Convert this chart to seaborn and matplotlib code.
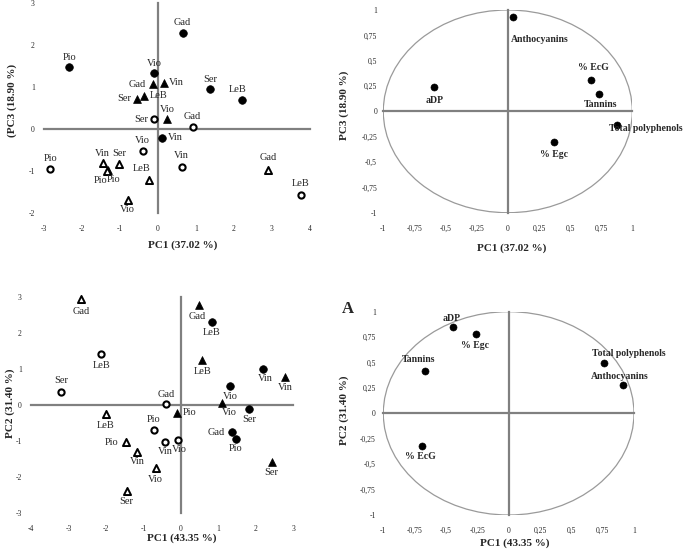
import numpy as np
import pandas as pd
import matplotlib
matplotlib.use("Agg")
import matplotlib.pyplot as plt
from matplotlib.patches import Circle
import seaborn as sns

# ---- scores, PC1 vs PC3 (top left) ----
pc13_cultivar = ['Gad', 'Pio', 'Vio', 'Ser', 'LeB', 'Vin',
                 'Ser', 'Gad', 'Vio', 'Vin', 'Pio', 'LeB',
                 'Gad', 'Vin', 'LeB', 'Ser', 'Vio', 'Pio',
                 'Vin', 'Ser', 'Pio', 'LeB', 'Vio', 'Gad']
pc13_group = ['fc'] * 6 + ['oc'] * 6 + ['ft'] * 6 + ['ot'] * 6
pc13_x = [0.65, -2.33, -0.10, 1.37, 2.20, 0.10,
          -0.11, 0.91, -0.40, 0.62, -2.83, 3.75,
          -0.14, 0.16, -0.38, -0.55, 0.24, -1.32,
          -1.46, -1.02, -1.34, -0.25, -0.80, 2.90]
pc13_y = [2.29, 1.47, 1.35, 0.95, 0.69, -0.20,
          0.24, 0.06, -0.52, -0.90, -0.94, -1.56,
          1.07, 1.10, 0.79, 0.73, 0.24, -0.97,
          -0.81, -0.83, -0.99, -1.21, -1.69, -0.97]
# label placement (dx, dy in pixels, alignment)
pc13_lab = [(0, 11, 'center'), (0, 10, 'center'), (0, 9, 'center'), (0, 10, 'center'), (-4, 11, 'center'), (6, 0, 'left'),
            (-6, 0, 'right'), (0, 10, 'center'), (0, 10, 'center'), (0, 11, 'center'), (0, 10, 'center'), (0, 11, 'center'),
            (-7, 0, 'right'), (5, 0, 'left'), (6, 0, 'left'), (-6, 0, 'right'), (0, 10, 'center'), (6, -10, 'center'),
            (0, 10, 'center'), (0, 10, 'center'), (-7, -10, 'center'), (-7, 11, 'center'), (0, -10, 'center'), (0, 12, 'center')]

# ---- scores, PC1 vs PC2 (bottom left) ----
pc12_cultivar = ['LeB', 'Vin', 'Vio', 'Ser', 'Gad', 'Pio',
                 'LeB', 'Ser', 'Gad', 'Pio', 'Vin', 'Vio',
                 'Gad', 'LeB', 'Vin', 'Vio', 'Pio', 'Ser',
                 'Gad', 'LeB', 'Pio', 'Vin', 'Vio', 'Ser']
pc12_group = ['fc'] * 6 + ['oc'] * 6 + ['ft'] * 6 + ['ot'] * 6
pc12_x = [0.82, 2.20, 1.31, 1.82, 1.37, 1.47,
          -2.12, -3.20, -0.40, -0.72, -0.43, -0.07,
          0.48, 0.57, 2.79, 1.11, -0.10, 2.42,
          -2.67, -2.01, -1.47, -1.16, -0.67, -1.45]
pc12_y = [2.30, 0.98, 0.52, -0.13, -0.76, -0.94,
          1.40, 0.36, 0.03, -0.70, -1.03, -0.98,
          2.76, 1.24, 0.77, 0.06, -0.22, -1.59,
          2.93, -0.27, -1.04, -1.31, -1.77, -2.41]
pc12_lab = [(0, -11, 'center'), (2, -9, 'center'), (0, -11, 'center'), (0, -10, 'center'), (-7, 0, 'right'), (0, -10, 'center'),
            (0, -11, 'center'), (0, 11, 'center'), (0, 9, 'center'), (0, 10, 'center'), (1, -10, 'center'), (1, -10, 'center'),
            (-2, -11, 'center'), (0, -11, 'center'), (0, -11, 'center'), (7, -10, 'center'), (6, 0, 'left'), (0, -11, 'center'),
            (0, -12, 'center'), (0, -11, 'center'), (-7, 0, 'right'), (0, -10, 'center'), (0, -11, 'center'), (0, -10, 'center')]

# ---- loadings ----
load13_var = ['Anthocyanins', 'aDP', '% EcG', 'Tannins', 'Total polyphenols', '% Egc']
load13_x = [0.04, -0.59, 0.67, 0.73, 0.88, 0.37]
load13_y = [0.93, 0.24, 0.31, 0.17, -0.13, -0.30]
load13_lab = [(-2, -22, 'left'), (0, -13, 'center'), (2, 12, 'center'), (2, -10, 'center'), (-8, -4, 'left'), (0, -13, 'center')]

load12_var = ['aDP', '% Egc', 'Tannins', 'Total polyphenols', 'Anthocyanins', '% EcG']
load12_x = [-0.44, -0.26, -0.67, 0.76, 0.91, -0.69]
load12_y = [0.85, 0.78, 0.42, 0.50, 0.28, -0.32]
load12_lab = [(-2, 8, 'center'), (-1, -11, 'center'), (-6, 11, 'center'), (-12, 9, 'left'), (-32, 8, 'left'), (-2, -11, 'center')]

loading_ticks = [-1, -0.75, -0.5, -0.25, 0, 0.25, 0.5, 0.75, 1]
loading_ticklabels = ['-1', '-0,75', '-0,5', '-0,25', '0', '0,25', '0,5', '0,75', '1']

sns.set_style('white')
plt.rcParams['font.family'] = ['Liberation Serif', 'DejaVu Serif']

marker_styles = {
    'fc': dict(marker='o', s=30, color='black', edgecolor='black', linewidth=0.5),
    'oc': dict(marker='o', s=20, color='white', edgecolor='black', linewidth=1.5),
    'ft': dict(marker='^', s=32, color='black', edgecolor='black', linewidth=0.5),
    'ot': dict(marker='^', s=26, color='white', edgecolor='black', linewidth=1.4),
}

W, H = 685, 558
fig = plt.figure(figsize=(W / 100, H / 100), dpi=100)


def add_ax(left, top, right, bottom):
    # pixel box -> figure fraction
    return fig.add_axes([left / W, 1 - bottom / H, (right - left) / W, (bottom - top) / H])


def cross_axes(ax, xticks, yticks, xlabels, ylabels, ypad):
    ax.set_xlim(xticks[0], xticks[-1])
    ax.set_ylim(yticks[0], yticks[-1])
    ax.set_facecolor('none')
    for side in ['top', 'right']:
        ax.spines[side].set_visible(False)
    for side in ['left', 'bottom']:
        ax.spines[side].set_position(('data', 0))
        ax.spines[side].set_color('#808080')
        ax.spines[side].set_linewidth(1.6)
        ax.spines[side].set_zorder(1)
    ax.set_xticks(xticks)
    ax.set_yticks(yticks)
    ax.tick_params(direction='inout', length=5, width=1, color='#808080',
                   labelbottom=False, labelleft=False)
    sx = ax.secondary_xaxis('bottom')
    sx.set_xticks(xticks, xlabels)
    sx.spines['bottom'].set_visible(False)
    sx.tick_params(length=0, pad=8.5, labelsize=5.5)
    sy = ax.secondary_yaxis('left')
    sy.set_yticks(yticks, ylabels)
    sy.spines['left'].set_visible(False)
    sy.tick_params(length=0, pad=ypad, labelsize=5.5)


def score_plot(ax, cultivar, group, x, y, lab):
    df = pd.DataFrame({'cultivar': cultivar, 'group': group, 'x': x, 'y': y})
    for g, st in marker_styles.items():
        sub = df[df['group'] == g]
        sns.scatterplot(data=sub, x='x', y='y', ax=ax, legend=False, zorder=3, clip_on=False, **st)
    for (c, xi, yi), (dx, dy, ha) in zip(zip(cultivar, x, y), lab):
        ax.annotate(c, (xi, yi), xytext=(dx, dy), textcoords='offset pixels',
                    ha=ha, va='center', fontsize=7.5, zorder=4)
    ax.set_xlabel('')
    ax.set_ylabel('')


def loading_plot(ax, var, x, y, lab):
    ax.add_patch(Circle((0, 0), 1, fill=False, edgecolor='#9a9a9a', linewidth=0.9, zorder=0))
    df = pd.DataFrame({'var': var, 'x': x, 'y': y})
    sns.scatterplot(data=df, x='x', y='y', ax=ax, legend=False, marker='o', s=26,
                    color='black', edgecolor='black', zorder=3, clip_on=False)
    for (v, xi, yi), (dx, dy, ha) in zip(zip(var, x, y), lab):
        ax.annotate(v, (xi, yi), xytext=(dx, dy), textcoords='offset pixels',
                    ha=ha, va='center', fontsize=7, fontweight='bold', zorder=4)
    ax.set_xlabel('')
    ax.set_ylabel('')


# top left
ax1 = add_ax(44, 3.3, 310, 213)
t1x = [-3, -2, -1, 0, 1, 2, 3, 4]
t1y = [-2, -1, 0, 1, 2, 3]
cross_axes(ax1, t1x, t1y, [str(v) for v in t1x], [str(v) for v in t1y], 6.5)
score_plot(ax1, pc13_cultivar, pc13_group, pc13_x, pc13_y, pc13_lab)

# top right
ax2 = add_ax(383.3, 10, 632.3, 212.7)
cross_axes(ax2, loading_ticks, loading_ticks, loading_ticklabels, loading_ticklabels, 4.5)
loading_plot(ax2, load13_var, load13_x, load13_y, load13_lab)

# bottom left
ax3 = add_ax(31, 296.7, 293.3, 512.7)
t3x = [-4, -3, -2, -1, 0, 1, 2, 3]
t3y = [-3, -2, -1, 0, 1, 2, 3]
cross_axes(ax3, t3x, t3y, [str(v) for v in t3x], [str(v) for v in t3y], 6.5)
score_plot(ax3, pc12_cultivar, pc12_group, pc12_x, pc12_y, pc12_lab)

# bottom right
ax4 = add_ax(383.3, 311.7, 634, 515)
cross_axes(ax4, loading_ticks, loading_ticks, loading_ticklabels, loading_ticklabels, 5.5)
loading_plot(ax4, load12_var, load12_x, load12_y, load12_lab)


def fig_text(px, py, s, **kw):
    fig.text(px / W, 1 - py / H, s, ha='center', va='center', fontsize=8, fontweight='bold', **kw)


fig_text(183, 245, 'PC1 (37.02 %)')
fig_text(12, 100, '(PC3 (18.90 %)', rotation=90)
fig_text(512, 248, 'PC1 (37.02 %)')
fig_text(344, 105, 'PC3 (18.90 %)', rotation=90)
fig_text(182, 538, 'PC1 (43.35 %)')
fig_text(10, 403, 'PC2 (31.40 %)', rotation=90)
fig_text(515, 543, 'PC1 (43.35 %)')
fig_text(344, 410, 'PC2 (31.40 %)', rotation=90)
fig.text(348 / W, 1 - 309 / H, 'A', ha='center', va='center', fontsize=12, fontweight='bold')

fig.savefig('out.png', dpi=100)
